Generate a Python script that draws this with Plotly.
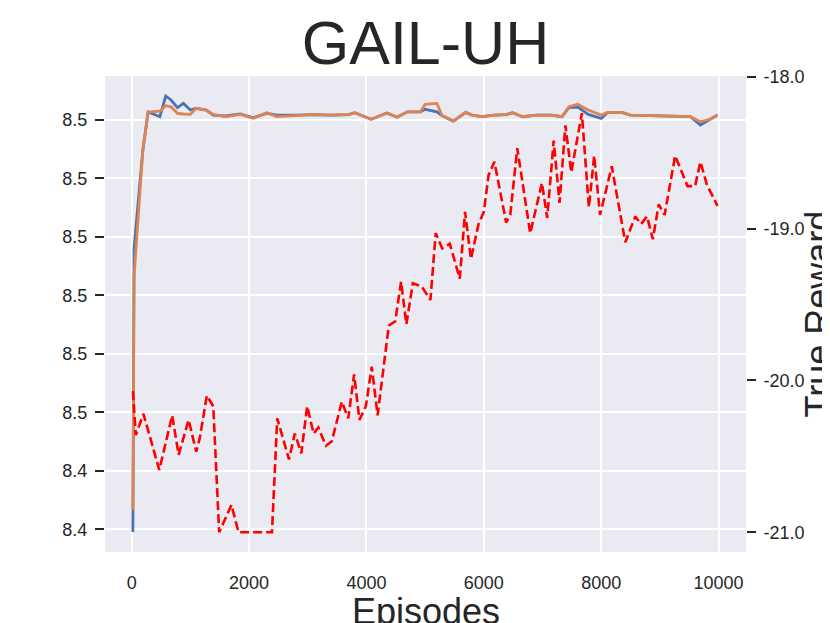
import plotly.graph_objects as go

# ── data ────────────────────────────────────────────────
EPISODES = [20, 40, 190, 280, 480, 580, 670, 780, 880, 1000, 1100, 1270, 1390,
            1600, 1850, 2070, 2300, 2470, 2800, 3100, 3400, 3700, 3800, 4080,
            4350, 4520, 4700, 4920, 5000, 5200, 5290, 5480, 5690, 5800, 5970,
            6180, 6380, 6490, 6660, 6900, 7150, 7330, 7450, 7600, 7780, 8000,
            8110, 8350, 8500, 9000, 9520, 9690, 9860, 9980]

SERIES_A = [8.43977, 8.46400, 8.47243, 8.47568, 8.47528, 8.47705, 8.47671,
            8.47605, 8.47642, 8.47585, 8.47600, 8.47585, 8.47542, 8.47534,
            8.47551, 8.47519, 8.47557, 8.47542, 8.47542, 8.47546, 8.47542,
            8.47546, 8.47562, 8.47506, 8.47559, 8.47523, 8.47570, 8.47570,
            8.47591, 8.47570, 8.47536, 8.47491, 8.47565, 8.47542, 8.47528,
            8.47542, 8.47546, 8.47562, 8.47528, 8.47542, 8.47542, 8.47528,
            8.47605, 8.47611, 8.47548, 8.47514, 8.47565, 8.47565, 8.47542,
            8.47538, 8.47528, 8.47457, 8.47506, 8.47542]

SERIES_B = [8.44165, 8.46160, 8.47243, 8.47568, 8.47576, 8.47622, 8.47613,
            8.47557, 8.47551, 8.47548, 8.47600, 8.47585, 8.47548, 8.47528,
            8.47548, 8.47514, 8.47562, 8.47528, 8.47538, 8.47546, 8.47542,
            8.47546, 8.47562, 8.47506, 8.47559, 8.47525, 8.47570, 8.47570,
            8.47634, 8.47642, 8.47536, 8.47491, 8.47565, 8.47542, 8.47528,
            8.47542, 8.47546, 8.47562, 8.47528, 8.47542, 8.47542, 8.47528,
            8.47613, 8.47634, 8.47585, 8.47542, 8.47565, 8.47565, 8.47542,
            8.47538, 8.47528, 8.47485, 8.47506, 8.47542]

REWARD_EPISODES = [20, 70, 200, 470, 690, 800, 970, 1100, 1160, 1280, 1390,
                   1490, 1700, 1820, 1900, 2390, 2480, 2680, 2780, 2890, 2990,
                   3100, 3180, 3310, 3410, 3580, 3690, 3790, 3880, 3990, 4090,
                   4190, 4380, 4490, 4590, 4680, 4790, 4940, 5090, 5180, 5290,
                   5420, 5590, 5680, 5780, 5910, 6000, 6080, 6180, 6380, 6450,
                   6570, 6790, 6990, 7080, 7190, 7290, 7390, 7490, 7670, 7790,
                   7880, 7980, 8180, 8410, 8580, 8680, 8780, 8880, 8980, 9080,
                   9260, 9470, 9600, 9690, 9800, 9980]

TRUE_REWARD = [-20.07, -20.36, -20.22, -20.59, -20.23, -20.49, -20.26, -20.47,
               -20.38, -20.10, -20.17, -21.00, -20.82, -21.00, -21.00, -21.00,
               -20.25, -20.52, -20.35, -20.48, -20.17, -20.35, -20.31, -20.43,
               -20.40, -20.14, -20.25, -19.96, -20.26, -20.17, -19.91, -20.23,
               -19.64, -19.61, -19.35, -19.63, -19.36, -19.38, -19.47, -19.03,
               -19.13, -19.10, -19.33, -18.89, -19.20, -18.97, -18.89, -18.65,
               -18.56, -18.96, -18.91, -18.47, -19.03, -18.70, -18.93, -18.42,
               -18.83, -18.32, -18.63, -18.24, -18.86, -18.52, -18.91, -18.59,
               -19.09, -18.92, -18.97, -18.92, -19.07, -18.84, -18.91, -18.52,
               -18.72, -18.72, -18.56, -18.71, -18.85]

X_TICK_VALUES = [0, 2000, 4000, 6000, 8000, 10000]
X_TICK_TEXT = ["0", "2000", "4000", "6000", "8000", "10000"]
LEFT_TICK_VALUES = [8.440, 8.445, 8.450, 8.455, 8.460, 8.465, 8.470, 8.475]
LEFT_TICK_TEXT = ["8.4", "8.4", "8.5", "8.5", "8.5", "8.5", "8.5", "8.5"]
RIGHT_TICK_VALUES = [-21.0, -20.0, -19.0, -18.0]
RIGHT_TICK_TEXT = ["-21.0", "-20.0", "-19.0", "-18.0"]

# ── style ───────────────────────────────────────────────
FONT = "Liberation Sans, Arial, sans-serif"
INK = "#262626"
BG = "#EAEAF2"

fig = go.Figure()

fig.add_trace(go.Scatter(
    x=EPISODES, y=SERIES_A, mode="lines",
    line=dict(color="#4C72B0", width=2.8),
    showlegend=False,
))
fig.add_trace(go.Scatter(
    x=EPISODES, y=SERIES_B, mode="lines",
    line=dict(color="#DD8452", width=2.8),
    showlegend=False,
))
fig.add_trace(go.Scatter(
    x=REWARD_EPISODES, y=TRUE_REWARD, mode="lines", yaxis="y2",
    line=dict(color="#FF0000", width=2.6, dash="9px,4px"),
    showlegend=False,
))

# axis titles as annotations so they can run past the figure edge (as in the original)
fig.add_annotation(
    text="Episodes", xref="paper", yref="paper",
    x=0.5, y=-0.124, xanchor="center", yanchor="middle",
    showarrow=False, font=dict(size=36, color=INK),
)
fig.add_annotation(
    text="True Reward", xref="paper", yref="paper",
    x=1.113, y=0.5, xanchor="center", yanchor="middle", textangle=-90,
    showarrow=False, font=dict(size=36, color=INK),
)

# page body has an 8px margin, so the figure is 8px smaller and margins shifted
fig.update_layout(
    width=822,
    height=615,
    paper_bgcolor="white",
    plot_bgcolor=BG,
    font=dict(family=FONT, color=INK, size=18),
    margin=dict(l=97, r=84, t=68, b=71),
    title=dict(
        text="GAIL-UH",
        x=0.5, xanchor="center", xref="paper",
        y=0.944, yanchor="middle", yref="container",
        font=dict(size=61, color=INK),
    ),
    xaxis=dict(
        range=[-455, 10467],
        tickvals=X_TICK_VALUES, ticktext=X_TICK_TEXT,
        showgrid=True, gridcolor="white", gridwidth=2,
        zeroline=False, showline=False, automargin=False,
        ticks="", ticklabelstandoff=18,
        tickfont=dict(size=18),
    ),
    yaxis=dict(
        range=[8.43806, 8.47876],
        tickvals=LEFT_TICK_VALUES, ticktext=LEFT_TICK_TEXT,
        showgrid=True, gridcolor="white", gridwidth=2,
        zeroline=False, showline=False, automargin=False,
        ticks="outside", ticklen=9, tickwidth=2, tickcolor=INK,
        ticklabelstandoff=4,
        tickfont=dict(size=18),
    ),
    yaxis2=dict(
        overlaying="y", side="right",
        range=[-21.13, -17.995],
        tickvals=RIGHT_TICK_VALUES, ticktext=RIGHT_TICK_TEXT,
        showgrid=False, zeroline=False, showline=False, automargin=False,
        ticks="outside", ticklen=9, tickwidth=2, tickcolor=INK,
        ticklabelstandoff=4,
        tickfont=dict(size=18),
    ),
)

fig.write_html("out.html")
